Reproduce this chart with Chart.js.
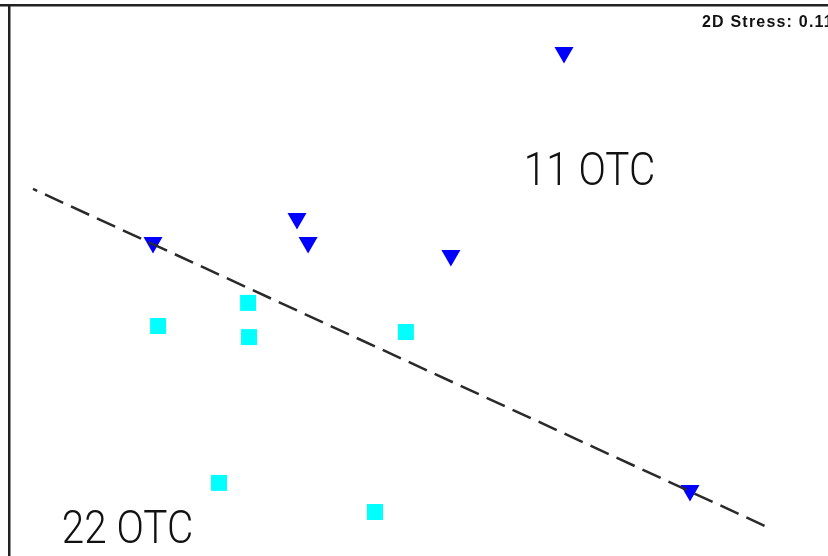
<!DOCTYPE html>
<html>
<head>
<meta charset="utf-8">
<script src="https://cdn.jsdelivr.net/npm/chart.js@4.4.1/dist/chart.umd.min.js"></script>
<style>
  html, body { margin: 0; padding: 0; background: #fff; }
  #wrap { width: 828px; height: 556px; position: relative; }
</style>
</head>
<body>
<div id="wrap"><canvas id="c"></canvas></div>
<script>
// 2D MDS ordination coordinates
const otc11X = [0.50, -0.39, -0.353, -0.87, 0.123, 0.92];
const otc11Y = [0.752, 0.198, 0.118, 0.118, 0.075, -0.708];
const otc22X = [-0.553, -0.853, -0.55, -0.027, -0.65, -0.13];
const otc22Y = [-0.083, -0.16, -0.197, -0.18, -0.683, -0.78];
// separating line between the two groups
const lineX = [-1.27, 1.177];
const lineY = [0.297, -0.83];
// group labels
const groupLabels = ['11 OTC', '22 OTC'];
const groupLabelX = [0.585, -0.955];
const groupLabelY = [0.31, -0.883];
const stressText = '2D Stress: 0.11';

const toPts = (xs, ys) => xs.map((x, i) => ({ x, y: ys[i] }));

const decor = {
  id: 'decor',
  afterDatasetsDraw(chart) {
    const { ctx, scales: { x, y } } = chart;
    ctx.save();
    // frame: top and left borders
    ctx.fillStyle = '#222';
    ctx.fillRect(0, 4, chart.width, 2.5);
    ctx.fillRect(8, 4, 2.5, chart.height);
    // group labels
    ctx.fillStyle = '#111';
    ctx.font = '300 46px Roboto, "Liberation Sans", Arial, sans-serif';
    ctx.textBaseline = 'alphabetic';
    ctx.textAlign = 'center';
    groupLabels.forEach((t, i) => {
      const px = x.getPixelForValue(groupLabelX[i]);
      const py = y.getPixelForValue(groupLabelY[i]);
      ctx.save();
      ctx.translate(px, py);
      ctx.scale(0.88, 1);
      ctx.fillText(t, 0, 0);
      ctx.restore();
    });
    // stress value
    ctx.font = 'bold 16px "Liberation Sans", Arial, sans-serif';
    ctx.letterSpacing = '1.2px';
    ctx.textAlign = 'left';
    ctx.fillStyle = '#111';
    ctx.fillText(stressText, 702, 27);
    ctx.restore();
  }
};

new Chart(document.getElementById('c'), {
  type: 'scatter',
  data: {
    datasets: [
      {
        type: 'line',
        data: toPts(lineX, lineY),
        borderColor: '#2a2a2a',
        borderWidth: 2.5,
        borderDash: [20, 8.6],
        borderDashOffset: 15.4,
        pointRadius: 0,
        fill: false
      },
      {
        label: '11 OTC',
        data: toPts(otc11X, otc11Y),
        pointStyle: 'triangle',
        rotation: 180,
        pointRadius: 11,
        pointHoverRadius: 11,
        backgroundColor: '#0000ff',
        borderColor: '#0000ff',
        borderWidth: 0
      },
      {
        label: '22 OTC',
        data: toPts(otc22X, otc22Y),
        pointStyle: 'rect',
        pointRadius: 11.3,
        pointHoverRadius: 11.3,
        backgroundColor: '#00ffff',
        borderColor: '#00ffff',
        borderWidth: 0
      }
    ]
  },
  options: {
    responsive: true,
    maintainAspectRatio: false,
    animation: false,
    layout: { padding: 0, autoPadding: false },
    plugins: { legend: { display: false }, tooltip: { enabled: false } },
    scales: {
      x: { type: 'linear', display: false, min: -1.38, max: 1.38 },
      y: { type: 'linear', display: false, min: -0.9267, max: 0.9267 }
    }
  },
  plugins: [decor]
});
</script>
</body>
</html>
